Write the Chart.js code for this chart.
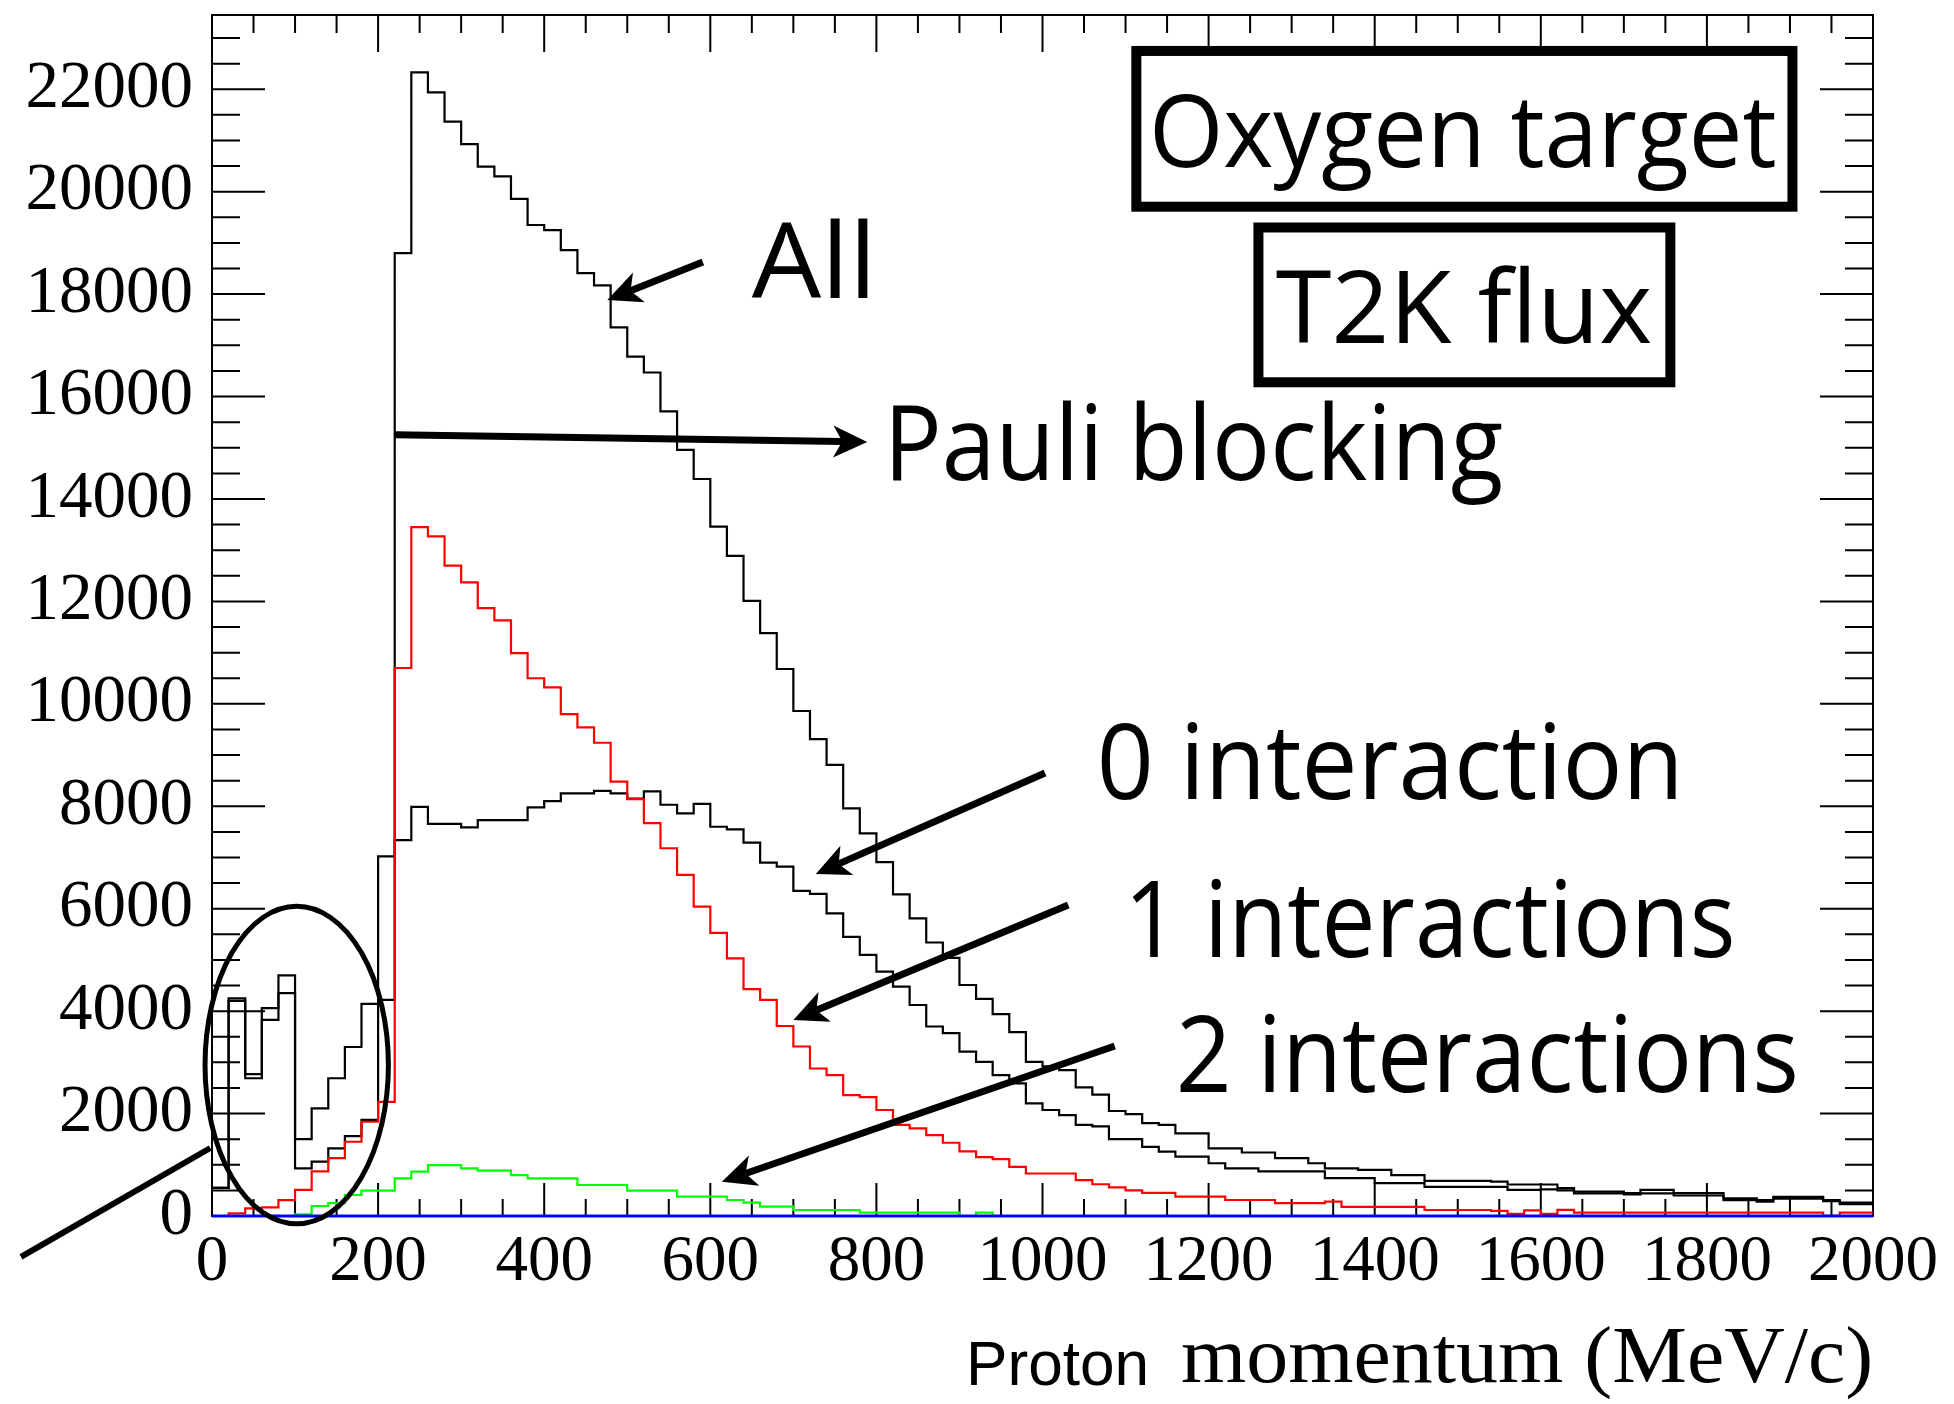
<!DOCTYPE html>
<html>
<head>
<meta charset="utf-8">
<title>Proton momentum - Oxygen target, T2K flux</title>
<script src="https://cdn.jsdelivr.net/npm/chart.js@4.4.1/dist/chart.umd.min.js"></script>
<style>
  html, body { margin: 0; padding: 0; background: #ffffff; }
  canvas { display: block; }
</style>
</head>
<body>
<canvas id="momentum-chart" width="1954" height="1404"></canvas>
<script>
// 20 MeV/c bins from 0 to 2000 MeV/c
const binWidth = 20;
const binLow = Array.from({ length: 100 }, (_, i) => i * binWidth);

// Axis ticks
const xTickValues = [0, 200, 400, 600, 800, 1000, 1200, 1400, 1600, 1800, 2000];
const yTickValues = [0, 2000, 4000, 6000, 8000, 10000, 12000, 14000, 16000, 18000, 20000, 22000];
const xMinorStep = 50;
const yMinorStep = 500;

// Bin contents, one entry per bin
const allProtons = [
  550, 4250, 2770, 4060, 4700, 1500, 2100, 2690, 3300, 4140,
  7020, 18800, 22330, 21940, 21370, 20930, 20490, 20300, 19860, 19350,
  19250, 18860, 18410, 18170, 17350, 16780, 16470, 15710, 14960, 14390,
  13460, 12890, 12010, 11380, 10680, 9860, 9310, 8810, 7960, 7470,
  6910, 6280, 5810, 5340, 5040, 4510, 4240, 3940, 3590, 3010,
  2920, 2850, 2510, 2370, 2050, 1990, 1815, 1780, 1615, 1615,
  1320, 1320, 1240, 1240, 1130, 1130, 1030, 930, 930, 900,
  900, 800, 800, 685, 685, 685, 685, 670, 615, 615,
  615, 545, 475, 475, 475, 445, 510, 510, 445, 445,
  445, 345, 345, 310, 375, 375, 375, 310, 260, 260
];

const zeroInteraction = [
  550, 4200, 2690, 3830, 4350, 930, 1060, 1320, 1560, 1875,
  4220, 7340, 7990, 7655, 7655, 7590, 7730, 7730, 7730, 7980,
  8100, 8250, 8250, 8300, 8250, 8150, 8290, 8030, 7860, 8045,
  7600, 7550, 7290, 6900, 6820, 6350, 6290, 5910, 5450, 5100,
  4770, 4480, 4120, 3700, 3570, 3210, 3010, 2750, 2590, 2200,
  2070, 1970, 1780, 1750, 1500, 1500, 1350, 1256, 1160, 1160,
  1030, 930, 930, 870, 870, 870, 870, 740, 740, 740,
  640, 640, 640, 570, 570, 570, 570, 570, 510, 510,
  520, 500, 440, 440, 440, 420, 440, 440, 400, 400,
  400, 310, 310, 280, 340, 340, 340, 290, 230, 230
];

const oneInteraction = [
  0, 50, 150, 170, 310, 510, 870, 1130, 1450, 1840,
  2230, 10700, 13450, 13270, 12700, 12370, 11870, 11630, 10990, 10500,
  10320, 9800, 9540, 9240, 8480, 8140, 7670, 7180, 6660, 6040,
  5530, 5030, 4430, 4220, 3710, 3310, 2880, 2750, 2360, 2320,
  2070, 1780, 1710, 1580, 1430, 1260, 1150, 1110, 960, 830,
  830, 830, 700, 620, 560, 500, 450, 450, 377, 377,
  377, 312, 312, 312, 250, 250, 250, 280, 180, 180,
  180, 180, 180, 117, 117, 117, 117, 100, 40, 110,
  40, 120, 65, 65, 65, 65, 65, 65, 65, 65,
  65, 65, 65, 65, 65, 65, 65, 5, 65, 65
];

const twoInteractions = [
  0, 0, 0, 0, 0, 30, 195, 250, 410, 495,
  495, 735, 865, 995, 995, 930, 885, 885, 800, 735,
  735, 735, 605, 605, 605, 495, 495, 495, 377, 377,
  377, 312, 260, 182, 182, 117, 117, 117, 117, 65,
  65, 65, 65, 65, 65, 0, 65, 0, 0, 0,
  0, 0, 0, 0, 0, 0, 0, 0, 0, 0,
  0, 0, 0, 0, 0, 0, 0, 0, 0, 0,
  0, 0, 0, 0, 0, 0, 0, 0, 0, 0,
  0, 0, 0, 0, 0, 0, 0, 0, 0, 0,
  0, 0, 0, 0, 0, 0, 0, 0, 0, 0
];

const moreInteractions = [
  0, 0, 0, 0, 0, 0, 0, 0, 0, 0,
  0, 0, 0, 0, 0, 0, 0, 0, 0, 0,
  0, 0, 0, 0, 0, 0, 0, 0, 0, 0,
  0, 0, 0, 0, 0, 0, 0, 0, 0, 0,
  0, 0, 0, 0, 0, 0, 0, 0, 0, 0,
  0, 0, 0, 0, 0, 0, 0, 0, 0, 0,
  0, 0, 0, 0, 0, 0, 0, 0, 0, 0,
  0, 0, 0, 0, 0, 0, 0, 0, 0, 0,
  0, 0, 0, 0, 0, 0, 0, 0, 0, 0,
  0, 0, 0, 0, 0, 0, 0, 0, 0, 0
];

// Callout texts, placed in axis units (left edge, right edge, baseline)
const callouts = [
  { text: 'All', x0: 650, x1: 790, y: 17920, cap: 76 },
  { text: 'Pauli blocking', x0: 820, x1: 1553, y: 14371, cap: 76 },
  { text: '0 interaction', x0: 1071, x1: 1763, y: 8142, cap: 76 },
  { text: '1 interactions', x0: 1108, x1: 1830, y: 5063, cap: 77 },
  { text: '2 interactions', x0: 1166, x1: 1906, y: 2427, cap: 77 },
  { text: 'Oxygen target', x0: 1135, x1: 1882, y: 20489, cap: 73 },
  { text: 'T2K flux', x0: 1281, x1: 1733, y: 17040, cap: 74 }
];

// Boxes round the target / flux labels
const boxes = [
  { x0: 1113, x1: 1903, y0: 19707, y1: 22748 },
  { x0: 1260, x1: 1756, y0: 16279, y1: 19301 }
];

// Arrows: tail -> tip
const arrows = [
  { from: [591, 18628], to: [476, 17886] },
  { from: [220, 15255], to: [789, 15113] },
  { from: [1003, 8650], to: [727, 6678] },
  { from: [1031, 6073], to: [700, 3827] },
  { from: [1087, 3319], to: [614, 670] }
];

// Ellipse around the low momentum region, with its pointer line
const lowRegion = { cx: 102, cy: 2948, rx: 110.4, ry: 3099 };
const lowPointer = { from: [-2, 1328], to: [-230, -800] };

function histogramPoints(values) {
  const pts = values.map((v, i) => ({ x: binLow[i], y: v }));
  pts.push({ x: binLow[binLow.length - 1] + binWidth, y: values[values.length - 1] });
  return pts;
}

// Draw text so its ink spans [left, right] with the given cap height
function fitText(ctx, text, family, capHeight, left, right, baseline) {
  ctx.textAlign = 'left';
  ctx.textBaseline = 'alphabetic';
  ctx.font = '100px ' + family;
  const capRatio = ctx.measureText('H').actualBoundingBoxAscent / 100;
  ctx.font = (capHeight / capRatio).toFixed(2) + 'px ' + family;
  const m = ctx.measureText(text);
  const inkWidth = m.actualBoundingBoxLeft + m.actualBoundingBoxRight;
  const sx = (right - left) / inkWidth;
  ctx.save();
  ctx.translate(left + m.actualBoundingBoxLeft * sx, baseline);
  ctx.scale(sx, 1);
  ctx.fillText(text, 0, 0);
  ctx.restore();
}

function drawArrow(ctx, x0, y0, x1, y1) {
  const headLen = 34, headHalf = 16, notch = 9;
  const len = Math.hypot(x1 - x0, y1 - y0);
  ctx.save();
  ctx.translate(x1, y1);
  ctx.rotate(Math.atan2(y1 - y0, x1 - x0));
  ctx.lineWidth = 7;
  ctx.beginPath();
  ctx.moveTo(-len, 0);
  ctx.lineTo(-headLen + notch, 0);
  ctx.stroke();
  ctx.beginPath();
  ctx.moveTo(0, 0);
  ctx.lineTo(-headLen, -headHalf);
  ctx.lineTo(-headLen + notch, 0);
  ctx.lineTo(-headLen, headHalf);
  ctx.closePath();
  ctx.fill();
  ctx.restore();
}

// Frame with inward ticks on all four sides
const frameTicks = {
  id: 'frameTicks',
  beforeDatasetsDraw(chart) {
    const { ctx, chartArea: a, scales: { x, y } } = chart;
    ctx.save();
    ctx.strokeStyle = '#000';
    ctx.lineWidth = 2;
    ctx.strokeRect(a.left, a.top, a.right - a.left, a.bottom - a.top);
    ctx.beginPath();
    for (let v = x.min; v <= x.max; v += xMinorStep) {
      const p = x.getPixelForValue(v);
      const major = xTickValues.includes(v);
      ctx.moveTo(p, a.bottom);
      ctx.lineTo(p, a.bottom - (major ? 33 : 17));
      ctx.moveTo(p, a.top);
      ctx.lineTo(p, a.top + (major ? 37 : 18));
    }
    for (let v = y.min; v <= y.max; v += yMinorStep) {
      const p = y.getPixelForValue(v);
      const major = yTickValues.includes(v);
      const len = major ? 53 : 28;
      ctx.moveTo(a.left, p);
      ctx.lineTo(a.left + len, p);
      ctx.moveTo(a.right, p);
      ctx.lineTo(a.right - len, p);
    }
    ctx.stroke();
    ctx.restore();
  }
};

// Labels, arrows, boxes and the axis title
const overlay = {
  id: 'overlay',
  afterDraw(chart) {
    const { ctx, chartArea: a, scales: { x, y } } = chart;
    const px = v => x.getPixelForValue(v);
    const py = v => y.getPixelForValue(v);
    ctx.save();
    ctx.fillStyle = '#000';
    ctx.strokeStyle = '#000';

    callouts.forEach(c => {
      fitText(ctx, c.text, '"Open Sans"', c.cap, px(c.x0), px(c.x1), py(c.y));
    });

    ctx.lineWidth = 10;
    boxes.forEach(b => {
      ctx.strokeRect(px(b.x0), py(b.y1), px(b.x1) - px(b.x0), py(b.y0) - py(b.y1));
    });

    arrows.forEach(ar => {
      drawArrow(ctx, px(ar.from[0]), py(ar.from[1]), px(ar.to[0]), py(ar.to[1]));
    });

    ctx.lineWidth = 5;
    ctx.beginPath();
    ctx.ellipse(px(lowRegion.cx), py(lowRegion.cy),
      px(lowRegion.cx + lowRegion.rx) - px(lowRegion.cx),
      py(lowRegion.cy) - py(lowRegion.cy + lowRegion.ry), 0, 0, Math.PI * 2);
    ctx.stroke();

    ctx.lineWidth = 6;
    ctx.beginPath();
    ctx.moveTo(px(lowPointer.from[0]), py(lowPointer.from[1]));
    ctx.lineTo(px(lowPointer.to[0]), py(lowPointer.to[1]));
    ctx.stroke();

    // x axis title: sans "Proton" followed by the serif ROOT title
    fitText(ctx, 'Proton', '"Liberation Sans"', 43, px(914), px(1124), a.bottom + 169);
    fitText(ctx, 'momentum (MeV/c)', '"Liberation Serif"', 52, px(1168), px(1997), a.bottom + 166);
    ctx.restore();
  }
};

function histDataset(label, values, color, width, order) {
  return {
    label: label,
    data: histogramPoints(values),
    borderColor: color,
    borderWidth: width,
    stepped: true,
    fill: false,
    pointRadius: 0,
    clip: 4,
    order: order
  };
}

document.addEventListener('DOMContentLoaded', function() {
  const canvas = document.getElementById('momentum-chart');

  new Chart(canvas.getContext('2d'), {
    type: 'line',
    data: {
      datasets: [
        histDataset('3+ interactions', moreInteractions, '#0000ff', 3, 0),
        histDataset('2 interactions', twoInteractions, '#00ff00', 2.2, 1),
        histDataset('1 interactions', oneInteraction, '#ff0000', 2.2, 2),
        histDataset('0 interaction', zeroInteraction, '#000000', 2.2, 3),
        histDataset('All', allProtons, '#000000', 2.2, 4)
      ]
    },
    options: {
      responsive: false,
      animation: false,
      devicePixelRatio: 1,
      events: [],
      layout: { padding: { top: 15, right: 81, bottom: 0, left: 0 } },
      plugins: {
        legend: { display: false },
        tooltip: { enabled: false }
      },
      scales: {
        x: {
          type: 'linear',
          min: 0,
          max: 2000,
          afterFit: s => {
            s.height = 188;
            s.paddingLeft = 0;
            s.paddingRight = 0;
          },
          afterBuildTicks: s => { s.ticks = xTickValues.map(v => ({ value: v })); },
          grid: { display: false, drawTicks: false },
          border: { display: false },
          ticks: {
            font: { family: '"Liberation Serif"', size: 65 },
            color: '#000',
            padding: 8,
            maxRotation: 0,
            autoSkip: false,
            callback: v => String(v)
          }
        },
        y: {
          type: 'linear',
          min: 0,
          max: 23450,
          afterFit: s => {
            s.width = 212;
            s.paddingTop = 0;
            s.paddingBottom = 0;
          },
          afterBuildTicks: s => { s.ticks = yTickValues.map(v => ({ value: v })); },
          grid: { display: false, drawTicks: false },
          border: { display: false },
          ticks: {
            font: { family: '"Liberation Serif"', size: 67 },
            color: '#000',
            padding: 19,
            autoSkip: false,
            callback: v => String(v)
          }
        }
      }
    },
    plugins: [frameTicks, overlay]
  });
});
</script>
</body>
</html>
